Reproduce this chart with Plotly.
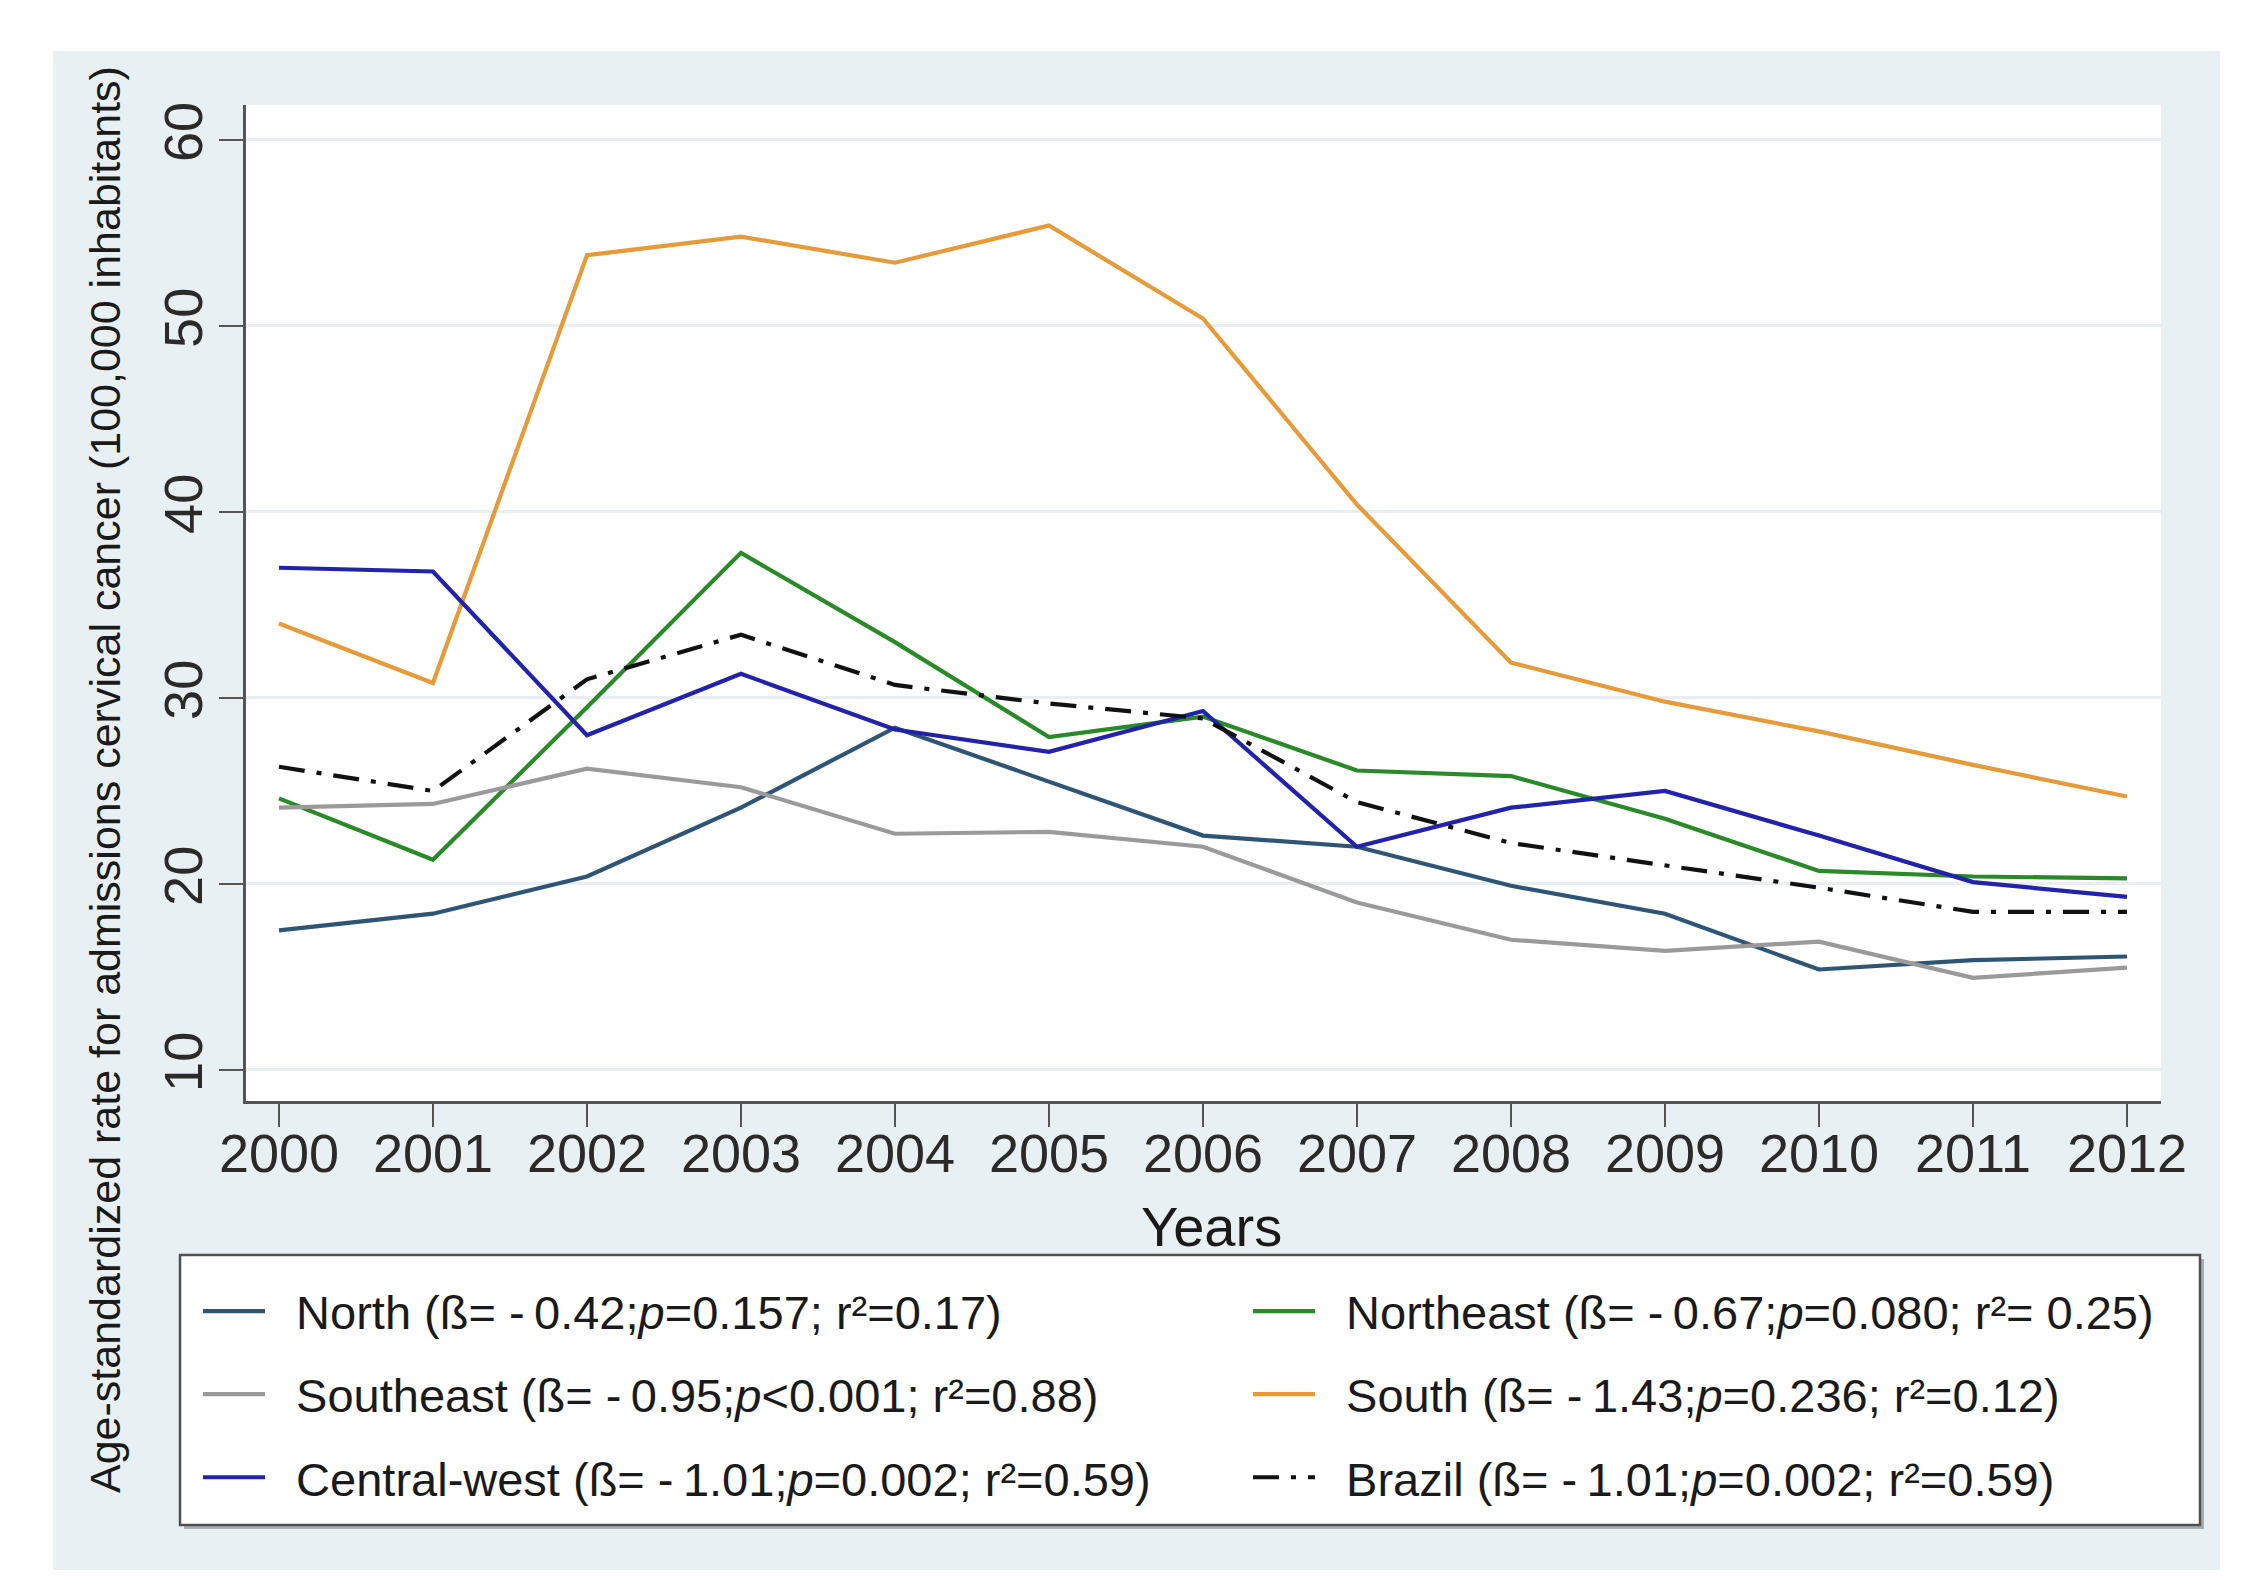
import plotly.graph_objects as go

# ---------------- data ----------------
years = [2000, 2001, 2002, 2003, 2004, 2005, 2006, 2007, 2008, 2009, 2010, 2011, 2012]
year_labels = [str(y) for y in years]

north = [17.5, 18.4, 20.4, 24.1, 28.4, 25.5, 22.6, 22.0, 19.9, 18.4, 15.4, 15.9, 16.1]
northeast = [24.6, 21.3, 29.5, 37.8, 33.0, 27.9, 29.0, 26.1, 25.8, 23.5, 20.7, 20.4, 20.3]
southeast = [24.1, 24.3, 26.2, 25.2, 22.7, 22.8, 22.0, 19.0, 17.0, 16.4, 16.9, 14.95, 15.5]
south = [34.0, 30.8, 53.8, 54.8, 53.4, 55.4, 50.4, 40.4, 31.9, 29.8, 28.2, 26.4, 24.7]
central_west = [37.0, 36.8, 28.0, 31.3, 28.3, 27.1, 29.3, 22.0, 24.1, 25.0, 22.6, 20.1, 19.3]
brazil = [26.3, 25.0, 31.0, 33.4, 30.7, 29.7, 28.9, 24.4, 22.2, 21.0, 19.8, 18.5, 18.5]

y_ticks = [10, 20, 30, 40, 50, 60]

NB = "\u00a0\u00a0"
TS = "\u2009"
name_north = NB + "North (ß= -" + TS + "0.42;<i>p</i>=0.157; r²=0.17)"
name_northeast = NB + "Northeast (ß= -" + TS + "0.67;<i>p</i>=0.080; r²= 0.25)"
name_southeast = NB + "Southeast (ß= -" + TS + "0.95;<i>p</i><0.001; r²=0.88)"
name_south = NB + "South (ß= -" + TS + "1.43;<i>p</i>=0.236; r²=0.12)"
name_cw = NB + "Central-west (ß= -" + TS + "1.01;<i>p</i>=0.002; r²=0.59)"
name_brazil = NB + "Brazil (ß= -" + TS + "1.01;<i>p</i>=0.002; r²=0.59)"

y_title = "Age-standardized rate for admissions cervical cancer (100,000 inhabitants)"
x_title = "Years"

# ---------------- geometry ----------------
W, H = 2250, 1595
L, R, T, B = 238, 97, 97, 502
PW = W - L - R
PH = H - T - B


def px_x(x):
    return (x - L) / PW


def px_y(y):
    return (H - B - y) / PH


FONT = "Liberation Sans, Arial, Helvetica, sans-serif"
BG = "#e9f0f3"
LW = 4.2

fig = go.Figure()


def add(yvals, name, color, legend, dash="solid", width=LW):
    fig.add_trace(go.Scatter(
        x=years, y=yvals, mode="lines", name=name,
        line=dict(color=color, width=width, dash=dash),
        legend=legend, legendgroup=name, hoverinfo="skip",
    ))


add(north, name_north, "#2f5575", "legend")
add(northeast, name_northeast, "#2a8a2a", "legend2")
add(southeast, name_southeast, "#9a9a9a", "legend")
add(south, name_south, "#e69a3a", "legend2")
add(central_west, name_cw, "#2222aa", "legend")
add(brazil, name_brazil, "#111111", "legend2", dash="26px,12px,5px,12px")

shapes = []
# white outer frame around the light background
for (x0, y0, x1, y1) in [(0, 0, 45, H), (2212, 0, W, H), (0, 0, W, 43), (0, 1562, W, H)]:
    shapes.append(dict(type="rect", xref="paper", yref="paper",
                       x0=px_x(x0), x1=px_x(x1), y0=px_y(y1), y1=px_y(y0),
                       fillcolor="white", line=dict(width=0), layer="above"))
# legend box shadow and box
shapes.append(dict(type="rect", xref="paper", yref="paper",
                   x0=px_x(176), x1=px_x(2196), y0=px_y(1521), y1=px_y(1251),
                   fillcolor="#a8adb0", line=dict(width=0), layer="above"))
shapes.append(dict(type="rect", xref="paper", yref="paper",
                   x0=px_x(172), x1=px_x(2192), y0=px_y(1517), y1=px_y(1247),
                   fillcolor="white", line=dict(color="#505050", width=2.5), layer="above"))

legend_common = dict(
    bgcolor="rgba(0,0,0,0)", borderwidth=0, orientation="v",
    font=dict(family=FONT, size=47, color="#1a1a1a"),
    itemwidth=62, tracegroupgap=19,
    xanchor="left", yanchor="top", itemclick=False, itemdoubleclick=False,
)

fig.update_layout(
    width=W, height=H,
    margin=dict(l=L, r=R, t=T, b=B, autoexpand=False),
    paper_bgcolor=BG, plot_bgcolor="white",
    showlegend=True,
    legend=dict(x=px_x(190), y=px_y(1266), **legend_common),
    legend2=dict(x=px_x(1240), y=px_y(1266), **legend_common),
    xaxis=dict(
        range=[1999.786, 2012.221], tickmode="array", tickvals=years, ticktext=year_labels,
        ticks="outside", ticklen=23, tickwidth=2, tickcolor="#555555",
        showline=True, linecolor="#555555", linewidth=2.5, mirror=False,
        showgrid=False, zeroline=False, ticklabelstandoff=-20,
        tickfont=dict(family=FONT, size=54, color="#2a2a2a"), fixedrange=True,
    ),
    yaxis=dict(
        range=[8.33, 61.88], tickmode="array", tickvals=y_ticks,
        ticktext=[str(v) for v in y_ticks], tickangle=-90,
        ticks="outside", ticklen=24, tickwidth=2, tickcolor="#555555",
        showline=True, linecolor="#555555", linewidth=2.5,
        showgrid=True, gridcolor="#e8eef1", gridwidth=2.5, zeroline=False,
        ticklabelstandoff=-4,
        tickfont=dict(family=FONT, size=54, color="#2a2a2a"), fixedrange=True,
    ),
    shapes=shapes,
    annotations=[
        dict(text=y_title, xref="paper", yref="paper", x=px_x(97), y=px_y(772),
             textangle=-90, showarrow=False, xanchor="center", yanchor="middle",
             font=dict(family=FONT, size=43, color="#1a1a1a")),
        dict(text=x_title, xref="paper", yref="paper", x=px_x(1203), y=px_y(1218),
             showarrow=False, xanchor="center", yanchor="middle",
             font=dict(family=FONT, size=56, color="#1a1a1a")),
    ],
)

fig.write_html("out.html")
